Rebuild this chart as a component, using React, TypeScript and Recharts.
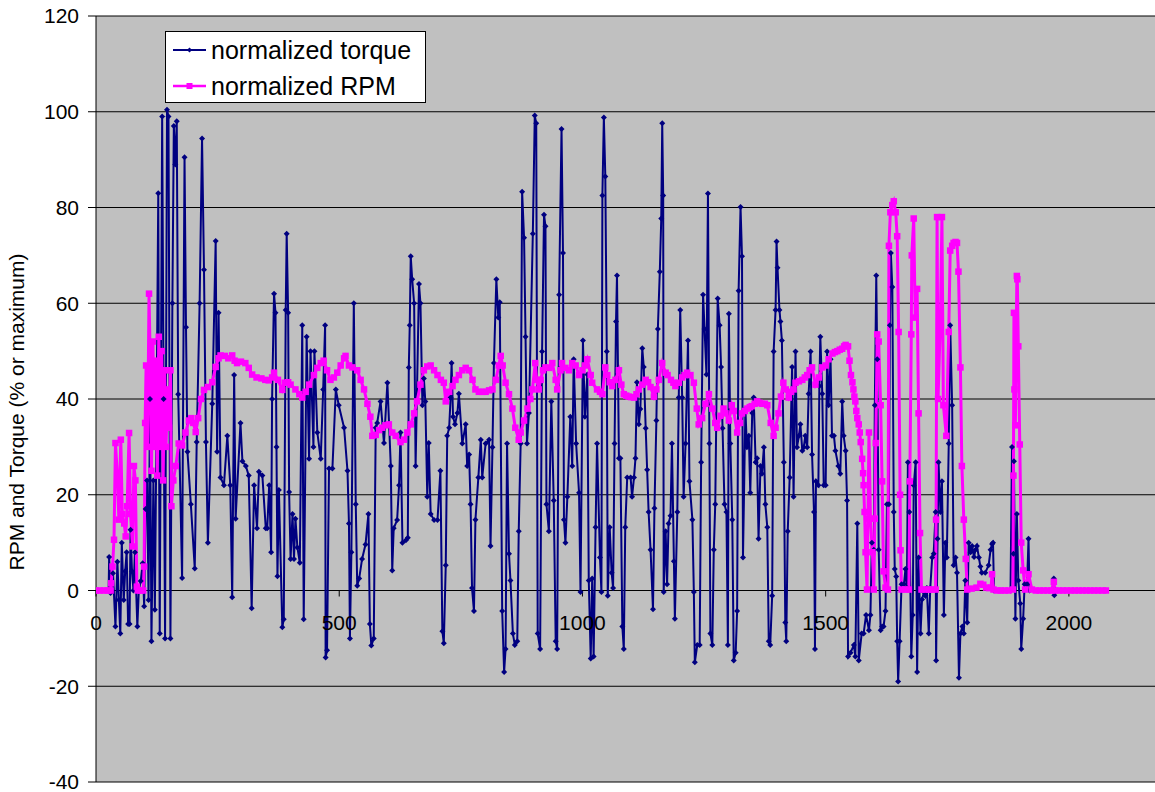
import {
    LineChart,
    Line,
    XAxis,
    YAxis,
    CartesianGrid,
    ReferenceDot,
    Legend,
} from "recharts";

type Pair = [number, number];

// normalized torque as [time, value]
const torqueA: Pair[] = [
    [0, 0], [26, 0], [27, 7], [30, -0.5], [35, 3.6], [40, -7.5], [44, 6], [47, -2], [50, -9], [53, 10],
    [57, -2], [60, 4], [63, 8], [66, -7], [69, -7], [71, 12.7], [74, 4], [77, 0], [80, 8], [85, -7.5],
    [88, 0], [92, 2], [96, 5.7], [99, -3.3], [102, 17], [105, 23], [108, -2], [111, 40], [114, -10.6],
    [118, 23], [121, -4], [124, 30], [128, 83], [131, -9], [136, 99], [139, 40], [142, -10], [146, 100.4],
    [149, 99], [153, -10], [157, 60], [160, 97], [163, 89], [166, 98], [169, 41], [177, 2.6], [182, 90.5],
    [185, 55], [188, 29], [195, 18], [203, 4.6], [207, 31], [213, 60], [218, 94.4], [222, 67], [226, 31],
    [230, 10], [239, 39], [246, 73], [249, 29], [252, 58], [256, 23.6], [263, 22], [270, 32.3], [276, 22],
    [280, -1.4], [284, 45], [287, 15], [297, 35], [301, 27], [308, 26], [314, 24], [320, -3.7], [325, 22],
    [331, 13], [335, 24.8], [342, 24], [349, 13],
];
const torqueB: Pair[] = [
    [352, 13], [356, 22], [360, 8], [362, 40], [366, 62], [369, 58], [371, 30], [373, 3], [376, 21],
    [383, -7.7], [386, -6], [390, 58.6], [392, 74.5], [395, 58], [397, 20.6], [400, 6.6], [404, 16],
    [407, 6.6], [410, 15], [414, 9], [419, 5.8], [424, 55.4], [427, -6], [433, 53], [438, 27.5], [441, 50],
    [447, 30], [449, 50], [455, 33], [462, 27.5], [467, 42], [471, 55.4], [472, -14], [475, -12.5],
    [479, 25.5], [486, 25.5], [493, 42], [499, 38.7], [510, 34], [517, 25], [520, 14], [522, -10], [525, 8],
    [530, 60], [534, 18], [537, 1], [541, 2.5], [547, 6.6], [554, 9.6], [560, 16], [563, -7], [566, -11.5],
    [571, -10], [575, 34], [578, 35], [585, 39.5], [592, 30.8], [599, 43.4], [606, 26], [609, 4.2],
    [612, 13], [619, 14.7], [623, 22], [626, 33], [630, 10], [637, 10.5], [641, 11], [643, 46.6],
    [645, 55.4], [647, 69.8], [650, 65], [654, 60], [657, 26], [664, 64], [667, 60], [671, 38.7],
    [674, 44.3], [677, 39.5], [681, 19.6], [684, 30.8], [688, 16], [695, 14.7], [702, 14.7], [708, 25],
    [712, -8.5], [715, -11],
];
const torqueC: Pair[] = [
    [719, 5.3], [722, 32.3], [726, 34], [729, 40.3], [731, 47.5], [734, 36.3], [738, 34.7], [743, 37.1],
    [746, 41.1], [753, 30.7], [760, 34.7], [763, 26], [767, 28.4], [770, 18], [773, 0.5], [777, -4.3],
    [780, 14.8], [786, 23.6], [791, 31.5], [794, 23.6], [801, 30.7], [808, 31.5], [811, 9.3], [815, 29.9],
    [818, 47.5], [823, 65], [827, 57], [830, 60.2], [835, -4.3], [839, -17], [842, -12.2], [845, 30.7],
    [849, 7.7], [852, 2.1], [857, -9], [861, -11.4], [866, -10.6], [869, 12.4], [873, 30.7], [876, 83.3],
    [880, 73.7], [883, 53], [886, 30.7], [890, 37.1], [898, 74.5], [902, 99.2], [905, 97.6], [908, -9],
    [913, -12.2], [917, 49.9], [921, 78.5], [924, 76.1], [926, 18], [931, 12.4], [936, 39.5], [941, 18.8],
    [945, -10.6], [948, -12.2], [952, 61.8], [957, 96.4], [960, 70.5], [962, 14.8], [965, 10], [969, 19.6],
    [975, 36.3], [979, 26], [982, 48.3], [987, 30.7], [993, 20.4], [996, -0.3], [1001, 52.2], [1005, 36.3],
    [1010, 45.1], [1013, 2.1], [1017, -14.2], [1020, 2.5], [1023, -13.8], [1027, 13.2], [1030, 30.7],
    [1036, 6.9], [1039, -0.3], [1041, 82.5], [1044, 98.8], [1047, 86.5], [1050, 49.9], [1052, -1.1],
    [1056, 13.2], [1060, 3.7], [1063, 0.5], [1066, 30.7], [1069, 56.2], [1071, 65.8], [1075, 27.6],
];
const torqueD: Pair[] = [
    [1078, 27.6], [1082, -7.5], [1085, -12.2], [1088, 13.2], [1092, 23.6], [1099, 23.6], [1102, 19.6],
    [1106, 23.6], [1109, 27.6], [1112, 43.5], [1116, 34.7], [1119, 37.9], [1123, 50.6], [1126, 46.7],
    [1130, 33.9], [1133, 25.2], [1136, 16.4], [1140, 8.5], [1145, -3.9], [1148, 17.2], [1152, 35.5],
    [1155, 54.6], [1159, 66.6], [1162, 77.7], [1164, 97.6], [1166, 82.5], [1167, -0.3], [1171, 12.4],
    [1174, 1.3], [1177, 14], [1181, 15.6], [1184, 30.7], [1188, 6.1], [1190, -5.9], [1195, 16.4],
    [1198, 40.3], [1201, 58.6], [1205, 40.3], [1208, 19.6], [1212, 30.7], [1217, 52.2], [1220, 22.8],
    [1226, 14.8], [1229, -0.3], [1231, -15], [1236, -11.4], [1241, -11.4], [1244, 26.8], [1248, 61.8],
    [1251, 54.6], [1255, 45.1], [1258, 82.9], [1261, 30.7], [1263, -9], [1267, -11.4], [1270, 8.5],
    [1273, 18], [1278, 61], [1282, 55.4], [1285, 46.7], [1288, 33.9], [1292, 18], [1296, 16.4],
    [1299, -11.4], [1301, 57.8], [1304, 30.7], [1308, 14.8], [1311, -14.6], [1315, -13], [1318, -4.3],
    [1321, 62.6], [1325, 80.1], [1328, 69.8], [1330, 6.9], [1335, 37.9], [1338, 29.9], [1342, 32.3],
    [1345, 20.4], [1349, 37.1], [1352, 40.3], [1356, 26.8], [1359, 27.6], [1362, 10.8], [1366, 26],
    [1369, 24.4], [1373, 29.9], [1376, 18], [1380, 13.2], [1383, -10.6], [1386, -11.4], [1390, -1.1],
    [1393, 49.9], [1397, 58.6], [1399, 72.9], [1401, 67.4], [1405, 58.6], [1407, 56.2], [1410, 52.2],
    [1414, 26.8], [1417, -6.7], [1419, -10.6], [1422, 12.4], [1426, 23.6], [1431, 46.7], [1434, 19.6],
];
const torqueE: Pair[] = [
    [1438, 49.9], [1441, 29.9], [1445, 32.3], [1448, 34.7], [1452, 29.2], [1455, 29.9], [1458, 32.3],
    [1462, 29.9], [1465, 41.1], [1469, 49.9], [1472, 28.4], [1476, 16.4], [1478, -12.2], [1480, 22.8],
    [1485, 22], [1487, 42.7], [1489, 53], [1493, 41.1], [1496, 22], [1500, 22], [1503, 49.9], [1506, 38.7],
    [1510, 48.3], [1513, 32.3], [1517, 32.3], [1520, 29.2], [1526, 26], [1530, 24.4], [1534, 39.5],
    [1537, 32.3], [1541, 29.2], [1544, 18.8], [1546, -13.8], [1551, -13], [1558, -11.4], [1561, -13.8],
    [1565, 14], [1568, -14.6], [1574, -9], [1578, -9], [1583, -5.1], [1589, -8.3], [1592, -5.1], [1595, 10],
    [1599, 8.5], [1601, 38.7], [1604, 65.8], [1606, 48.3], [1609, 8.5], [1613, -8.3], [1616, -7.5],
    [1619, -7.5], [1623, -4.3], [1626, 18], [1630, 18], [1632, 55.4], [1634, 70.5], [1637, 63.4],
    [1640, 16.4], [1642, 4.5], [1645, 2.9], [1647, -10.6], [1649, -19], [1652, -10.6], [1656, 1.3],
    [1661, 1.3], [1664, 4.5], [1667, 0.5], [1669, 26.8], [1672, 16.4], [1676, -13.8], [1679, -5.1],
    [1681, 22], [1685, 26.8], [1688, -17], [1691, 6.9], [1695, -9], [1698, -1.9], [1702, -0.3],
    [1705, -1.1], [1708, 0.5], [1712, -9], [1715, 0.5], [1719, 6.9], [1722, 7.7], [1726, 16.4],
    [1727, -14.6], [1730, 10.8], [1732, 26.8], [1736, 16.4], [1739, 22.8], [1743, -5.1], [1746, 10],
    [1749, 6.9], [1753, 30.7], [1756, 55.4], [1760, 38.7], [1763, 5.3], [1767, 6.9], [1770, 3.7],
    [1774, -18.2], [1777, -9], [1781, -7.5],
];
const torqueF: Pair[] = [
    [1784, -9], [1787, 2.1], [1791, -6.7], [1794, 10], [1798, 8], [1801, 9.3], [1805, 7], [1808, 8.5],
    [1811, 9.3], [1815, 6.9], [1818, 5], [1821, 3.7], [1828, 3.7], [1835, 5.3], [1839, 8.5], [1842, 9.7],
    [1844, 10], [1846, 0], [1860, 0], [1880, 0], [1883, 30], [1886, 7.7], [1887, 27], [1890, -5.9],
    [1893, 16], [1896, 2.1], [1900, -2.7], [1902, -12.2], [1906, -5.9], [1909, 1.3], [1914, 1.3],
    [1917, 10.8], [1919, 0], [1968, 0], [1969, 2.5], [1970, -1], [1972, 0], [2076, 0],
];

// normalized RPM as [time, value]
const rpmA: Pair[] = [
    [0, 0], [8, 0], [16, 0], [24, 0], [30, 0], [31, 1.5], [34, 5], [37, 10.6], [40, 30.8], [44, 24],
    [47, 14.8], [51, 31.5], [54, 16], [58, 14], [61, 11.3], [64, 17.6], [68, 32.9], [71, 16], [75, 9.2],
    [78, 26], [81, 23], [84, 0.8], [86, 0], [92, 0], [97, 0], [99, 5], [101, 35], [103, 47], [106, 30],
    [109, 62], [112, 45], [114, 25], [117, 52], [120, 30], [123, 48], [126, 24], [129, 53], [132, 30],
    [135, 50], [138, 23], [141, 46], [144, 30], [147, 42], [150, 34], [153, 46], [155, 17.6], [159, 23],
    [164, 26], [170, 30.7], [177, 30.3], [184, 33], [191, 35.5], [196, 36], [200, 35], [205, 33.1],
    [210, 36], [216, 40], [222, 41.9], [230, 42.5], [239, 43.5], [246, 46.7], [252, 48.5], [256, 49.1],
    [265, 49], [272, 48.5], [280, 49.1], [285, 48], [290, 47.5], [298, 47.8], [307, 47.5], [314, 46.5],
    [321, 45.1], [330, 44.5], [340, 44.3], [348, 44],
];
const rpmB: Pair[] = [
    [355, 43.9], [362, 44.5], [366, 45.5], [374, 44], [383, 41.9], [388, 43.4], [395, 43.5], [400, 43],
    [410, 42], [418, 41], [424, 40.3], [431, 41.5], [438, 43], [448, 45], [455, 46.5], [462, 47.5],
    [468, 48], [475, 46], [482, 44], [489, 44.5], [496, 45.5], [503, 47], [510, 48.5], [513, 49], [520, 47],
    [527, 46.6], [537, 46], [544, 44], [551, 42], [558, 39], [564, 36.3], [568, 32.3], [575, 32.5],
    [582, 33.5], [588, 34], [595, 34.5], [602, 34.7], [609, 33], [616, 32.3], [626, 31], [633, 31.5],
    [640, 33], [647, 34.7], [654, 37], [660, 39.5], [667, 43], [674, 46], [681, 46.8], [688, 47], [695, 46],
    [702, 45], [709, 44],
];
const rpmC: Pair[] = [
    [715, 43.4], [719, 39.5], [726, 41.5], [733, 42.7], [739, 44], [746, 45], [753, 46], [760, 46.5],
    [767, 46], [774, 44], [780, 42], [787, 41.5], [794, 41.5], [801, 41.5], [808, 41.8], [815, 42],
    [822, 44], [828, 47], [832, 49], [836, 47], [842, 43.4], [849, 41], [856, 38], [862, 34], [869, 31.5],
    [873, 33], [880, 35.5], [887, 38], [893, 40], [897, 42], [903, 47.5], [906, 44], [910, 42], [914, 44],
    [919, 46], [924, 46.6], [931, 46.5], [938, 47.5], [945, 44], [948, 42], [955, 46], [958, 47.5],
    [965, 46.5], [972, 46], [979, 47.5], [986, 47], [993, 45], [1000, 46], [1005, 47], [1010, 48.3],
    [1017, 45], [1020, 43.4], [1030, 42], [1036, 41.5], [1041, 41], [1047, 46.6], [1051, 45], [1056, 43.5],
    [1061, 42.7], [1068, 44],
];
const rpmD: Pair[] = [
    [1075, 46], [1080, 43], [1085, 41], [1090, 40.7], [1095, 40.5], [1100, 40.4], [1106, 40.3],
    [1111, 41], [1116, 42], [1123, 43], [1130, 44], [1135, 43.5], [1140, 42.5], [1147, 40.5], [1152, 42],
    [1157, 44], [1164, 47.5], [1171, 45.5], [1175, 45], [1182, 44], [1187, 43.4], [1191, 42.7],
    [1198, 43.4], [1205, 44.5], [1210, 45], [1215, 45.5], [1222, 45], [1229, 43.4], [1235, 38],
    [1239, 34.7], [1246, 36], [1253, 39], [1260, 41], [1267, 38], [1273, 35], [1277, 34], [1284, 36.5],
    [1290, 38], [1294, 37], [1301, 35.5], [1307, 38.7], [1311, 37.5], [1318, 33], [1324, 35], [1328, 37],
    [1334, 37.5], [1339, 38], [1344, 38.3], [1348, 38.5], [1354, 39], [1359, 39.5], [1364, 39.2],
    [1369, 39], [1375, 39], [1380, 38.7], [1387, 35], [1393, 32.3], [1397, 34], [1403, 37], [1408, 40.5],
    [1413, 43.4], [1418, 42], [1424, 40.3], [1429, 41.5],
];
const rpmE: Pair[] = [
    [1434, 42], [1438, 43.4], [1445, 43.7], [1452, 44], [1457, 44.5], [1462, 45], [1467, 46], [1472, 46.6],
    [1479, 43], [1486, 44.5], [1493, 46.6], [1500, 47], [1506, 48.3], [1514, 49.5], [1519, 49.8],
    [1524, 50], [1529, 50.3], [1534, 50.5], [1538, 51], [1541, 51.3], [1546, 51], [1549, 48], [1552, 45],
    [1555, 43.5], [1557, 42], [1559, 40.5], [1561, 39.5], [1563, 37.5], [1565, 36], [1568, 34.7],
    [1570, 33], [1572, 31], [1575, 27.5], [1577, 24.5], [1578, 22], [1580, 16.4], [1582, 8], [1585, 0.2],
    [1587, 15], [1589, 33], [1592, 15], [1596, 8], [1599, 0.2], [1601, 15], [1603, 30.8], [1606, 53.5],
    [1609, 52], [1613, 38.7], [1616, 22.8], [1619, 4], [1623, 0.6], [1628, 0.2], [1630, 72], [1633, 79],
    [1637, 80.5], [1640, 81.3], [1644, 79], [1647, 74], [1650, 54], [1653, 20], [1654, 8.4], [1656, 0.2],
    [1664, 0.2], [1671, 0.2], [1673, 22.8], [1676, 53.5], [1677, 70], [1681, 77.7], [1684, 57], [1688, 63],
    [1691, 37], [1694, 12], [1697, 0.2], [1705, 0.2], [1712, 0.2], [1719, 0.2], [1726, 0.2], [1727, 14.8],
    [1729, 78], [1731, 40], [1736, 57], [1739, 78], [1742, 38.7], [1748, 32.3], [1753, 54], [1756, 71],
    [1760, 72], [1763, 72.6], [1767, 72.8], [1770, 72.6], [1773, 66.6], [1777, 46.6], [1780, 26],
    [1784, 14.8], [1788, 6.6],
];
const rpmF: Pair[] = [
    [1791, 0.2], [1800, 0.4], [1810, 0.6], [1818, 1.4], [1824, 1.2], [1830, 0.6], [1836, 0.5], [1840, 0.6],
    [1842, 3.4], [1845, 0.2], [1852, 0], [1860, 0], [1868, 0], [1876, 0], [1885, 0.2], [1886, 24],
    [1887, 58], [1888, 42], [1890, 34.5], [1893, 65.7], [1894, 65], [1896, 51], [1899, 30.5], [1902, 10],
    [1906, 4.2], [1910, 0.2], [1917, 3.4], [1924, 0.2], [1932, 0], [1940, 0], [1948, 0], [1956, 0],
    [1964, 0], [1969, 1.8], [1972, 0], [1980, 0], [1988, 0], [1996, 0], [2004, 0], [2012, 0], [2020, 0],
    [2028, 0], [2036, 0], [2044, 0], [2052, 0], [2060, 0], [2068, 0], [2076, 0],
];

const yTicks = [-40, -20, 0, 20, 40, 60, 80, 100, 120];
const xTicks = [0, 500, 1000, 1500, 2000];
const seriesNames = ["normalized torque", "normalized RPM"];
const yTitle = "RPM and Torque (% or maximum)";

const toRows = (parts: Pair[][]) => parts.flat().map(([t, v]) => ({ t, v }));
const torque = toRows([torqueA, torqueB, torqueC, torqueD, torqueE, torqueF]);
const rpm = toRows([rpmA, rpmB, rpmC, rpmD, rpmE, rpmF]);

const NAVY = "#000080";
const MAGENTA = "#FF00FF";
const FONT = "'Liberation Sans', Arial, Helvetica, sans-serif";

const diamond = (cx: number, cy: number, s: number) =>
    `M${cx},${cy - s}L${cx + s},${cy}L${cx},${cy + s}L${cx - s},${cy}Z`;

function TorqueDot(p: any) {
    if (p.cx == null || p.cy == null) return null;
    return <path key={`td${p.index}`} d={diamond(p.cx, p.cy, 3)} fill={NAVY} />;
}

function RpmDot(p: any) {
    if (p.cx == null || p.cy == null) return null;
    return <rect key={`rd${p.index}`} x={p.cx - 3.25} y={p.cy - 3.25} width={6.5} height={6.5} fill={MAGENTA} />;
}

function XTickMark({ cx, cy, value }: { cx?: number; cy?: number; value: number }) {
    if (cx == null || cy == null) return null;
    return (
        <g>
            <line x1={cx} y1={cy} x2={cx} y2={cy + 6} stroke="#000" strokeWidth={1} />
            <text x={cx} y={cy + 39} textAnchor="middle" fontSize={21} fontFamily={FONT} fill="#000">
                {value}
            </text>
        </g>
    );
}

function AxisTitle(props: any) {
    const vb = props.viewBox || { x: 0, y: 16, width: 96, height: 766 };
    const cx = vb.x + 24;
    const cy = vb.y + vb.height / 2 + 13;
    return (
        <text
            x={cx}
            y={cy}
            transform={`rotate(-90 ${cx} ${cy})`}
            textAnchor="middle"
            fontSize={21}
            fontFamily={FONT}
            fill="#000"
        >
            {yTitle}
        </text>
    );
}

function LegendBox() {
    const rows = [
        { name: seriesNames[0], color: NAVY, y: 19, marker: "diamond" },
        { name: seriesNames[1], color: MAGENTA, y: 55, marker: "square" },
    ];
    return (
        <svg width={261} height={72} style={{ display: "block" }}>
            <rect x={0.5} y={0.5} width={260} height={71} fill="#fff" stroke="#000" />
            {rows.map((r) => (
                <g key={r.name}>
                    <line x1={8} y1={r.y} x2={41} y2={r.y} stroke={r.color} strokeWidth={r.marker === "square" ? 2.5 : 2} />
                    {r.marker === "diamond" ? (
                        <path d={diamond(24.5, r.y, 2.6)} fill={r.color} />
                    ) : (
                        <rect x={21.5} y={r.y - 3} width={6} height={6} fill={r.color} />
                    )}
                    <text x={46} y={r.y + 8.5} fontSize={25} fontFamily={FONT} fill="#000">
                        {r.name}
                    </text>
                </g>
            ))}
        </svg>
    );
}

export default function App() {
    return (
        <div style={{ position: "absolute", left: 0, top: 0, width: 1155, height: 792, background: "#fff" }}>
            <LineChart width={1155} height={792} margin={{ top: 16, right: 0, bottom: 10, left: 0 }}>
                <CartesianGrid vertical={false} stroke="#000" fill="#C0C0C0" fillOpacity={1} />
                <XAxis type="number" dataKey="t" domain={[0, 2177]} ticks={xTicks} hide allowDataOverflow />
                <YAxis
                    type="number"
                    domain={[-40, 120]}
                    ticks={yTicks}
                    interval={0}
                    width={96}
                    axisLine={{ stroke: "#000" }}
                    tickLine={{ stroke: "#000" }}
                    tickSize={8}
                    tickMargin={9}
                    tick={{ fill: "#000", fontSize: 21, fontFamily: FONT }}
                    label={<AxisTitle />}
                />
                <Line
                    data={torque}
                    dataKey="v"
                    name={seriesNames[0]}
                    type="linear"
                    stroke={NAVY}
                    strokeWidth={2}
                    dot={TorqueDot}
                    activeDot={false}
                    isAnimationActive={false}
                />
                <Line
                    data={rpm}
                    dataKey="v"
                    name={seriesNames[1]}
                    type="linear"
                    stroke={MAGENTA}
                    strokeWidth={3}
                    dot={RpmDot}
                    activeDot={false}
                    isAnimationActive={false}
                />
                {xTicks.map((x) => (
                    <ReferenceDot
                        key={x}
                        x={x}
                        y={0}
                        r={0}
                        ifOverflow="visible"
                        shape={(p: any) => <XTickMark cx={p.cx} cy={p.cy} value={x} />}
                    />
                ))}
                <Legend
                    layout="horizontal"
                    verticalAlign="middle"
                    align="center"
                    wrapperStyle={{ left: 165, top: 31, width: 261, height: 72 }}
                    content={() => <LegendBox />}
                />
            </LineChart>
        </div>
    );
}
